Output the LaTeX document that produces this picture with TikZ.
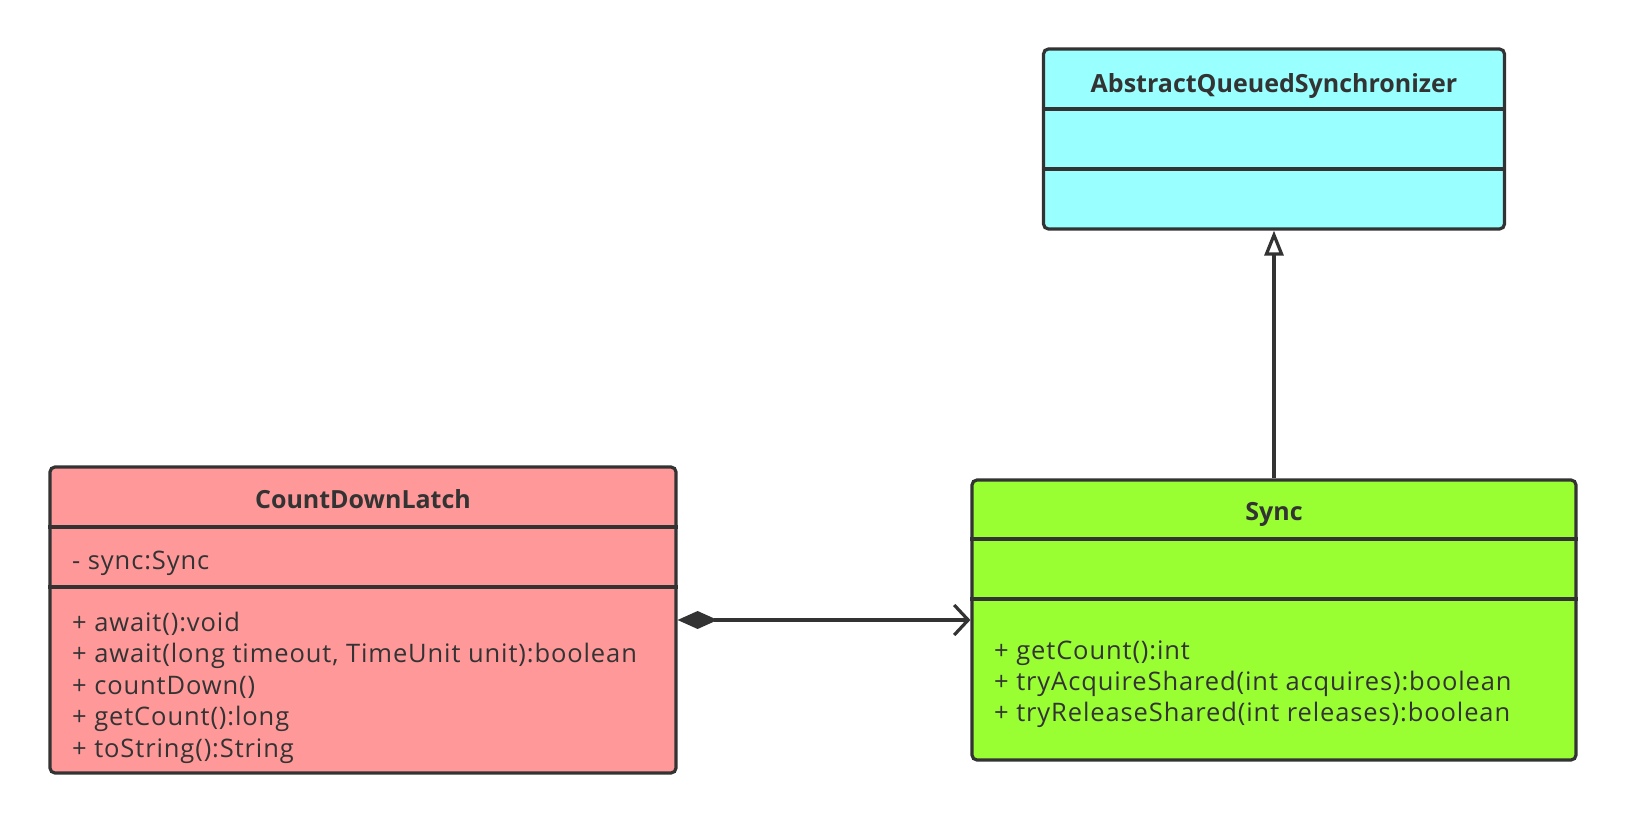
\documentclass[tikz,border=0pt]{standalone}
\usepackage{fontspec}
\setmainfont{Open Sans}
\newfontfamily\memberfont[LetterSpace=3.5]{Open Sans}
\newfontfamily\titlefont{Open Sans}
\usetikzlibrary{arrows.meta}
\definecolor{linec}{HTML}{333333}
\definecolor{pinkc}{HTML}{FF9999}
\definecolor{cyanc}{HTML}{99FFFF}
\definecolor{greenc}{HTML}{99FF33}
\tikzset{
  cls/.style={draw=linec, line width=3.2pt, rounded corners=5pt, inner sep=0pt},
  divider/.style={draw=linec, line width=3.2pt},
  title/.style={font=\titlefont\fontsize{25}{30}\selectfont\bfseries, text=linec, anchor=base, inner sep=0pt},
  member/.style={font=\memberfont\fontsize{25.5}{30}\selectfont, text=linec, inner sep=0pt, anchor=base west},
  conn/.style={draw=linec, line width=3.2pt},
}
\begin{document}
\begin{tikzpicture}[x=1pt,y=-1pt]
\useasboundingbox (0,0) rectangle (1626,822);
% AbstractQueuedSynchronizer
\node[cls, fill=cyanc, minimum width=461pt, minimum height=180pt] (aqs) at (1274,139) {};
\draw[divider] (aqs.west |- 0,109) -- (aqs.east |- 0,109);
\draw[divider] (aqs.west |- 0,169) -- (aqs.east |- 0,169);
\node[title] (aqst) at (1274,92) {AbstractQueuedSynchronizer};
% CountDownLatch
\node[cls, fill=pinkc, minimum width=626pt, minimum height=306pt] (cdl) at (363,620) {};
\draw[divider] (cdl.west |- 0,527) -- (cdl.east |- 0,527);
\draw[divider] (cdl.west |- 0,587) -- (cdl.east |- 0,587);
\node[title] (cdlt) at (363,508) {CountDownLatch};
\node[member] (cdla) at (72,569) {- sync:Sync};
\node[member] (cdl1) at (72,631) {+ await():void};
\node[member] (cdl2) at (72,662.5) {+ await(long timeout, TimeUnit unit):boolean};
\node[member] (cdl3) at (72,694) {+ countDown()};
\node[member] (cdl4) at (72,725.5) {+ getCount():long};
\node[member] (cdl5) at (72,757) {+ toString():String};
% Sync
\node[cls, fill=greenc, minimum width=604pt, minimum height=280pt] (sync) at (1274,620) {};
\draw[divider] (sync.west |- 0,539) -- (sync.east |- 0,539);
\draw[divider] (sync.west |- 0,599) -- (sync.east |- 0,599);
\node[title] (synct) at (1274,520) {Sync};
\node[member] (sync1) at (994,659) {+ getCount():int};
\node[member] (sync2) at (994,690) {+ tryAcquireShared(int acquires):boolean};
\node[member] (sync3) at (994,721) {+ tryReleaseShared(int releases):boolean};
% connectors
\draw[conn, {Diamond[length=40pt,width=18pt]}-{Straight Barb[length=14pt,width=30pt,line width=3.2pt]}] (cdl.east) -- (sync.west);
\draw[conn, -{Triangle[open,length=25pt,width=19pt,line width=3.2pt,fill=white]}] (sync.north) -- (aqs.south);
\end{tikzpicture}
\end{document}
